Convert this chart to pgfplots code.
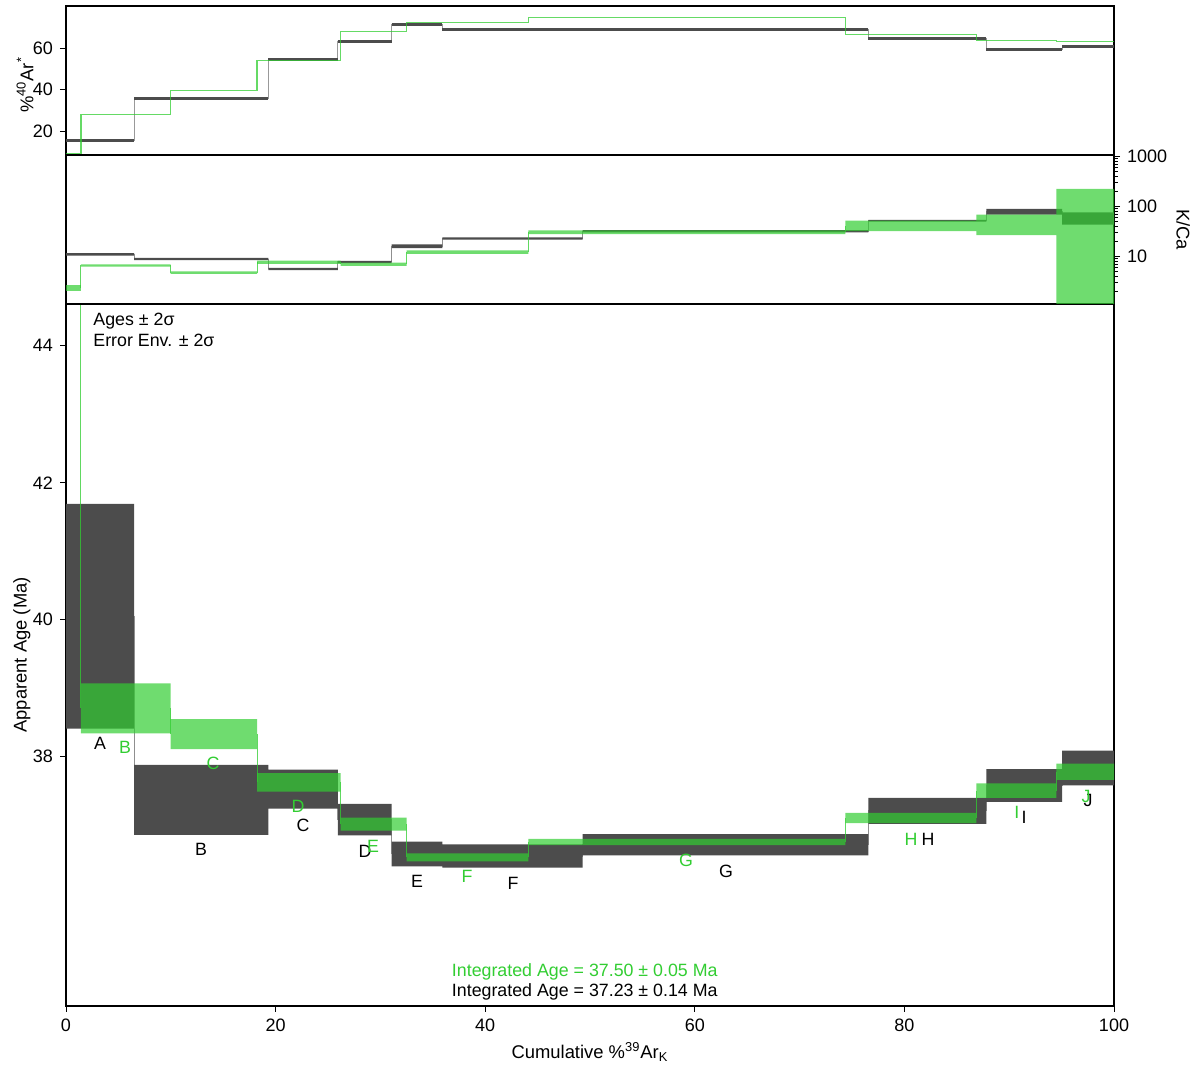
\documentclass[border=0pt]{standalone}
\usepackage{fontspec}
\setmainfont{Liberation Sans}
\usepackage{pgfplots}
\pgfplotsset{compat=1.18}
\usepackage{pgfplotstable}
\definecolor{lg}{RGB}{50,205,50}

% black series: x = left edge of step; mc = apparent age; kc = K/Ca; p = %40Ar*
\pgfplotstableread{
x     mc     kc    p
0     40.05  11.1  15.6
6.49  37.37  8.96  35.8
19.30 37.525 5.66  54.8
25.93 37.08  7.82  63.2
31.08 36.58  16.1  71.4
35.91 36.55  23.1  69.0
49.30 36.715 32.3  68.9
76.57 37.21  52.3  64.6
87.82 37.58  79    59.3
95.06 37.835 58    60.8
100   37.835 58    60.8
}\blk

% green series
\pgfplotstableread{
x     mc     kc    p
0     48.0   2.36  9.1
1.43  38.705 6.67  27.9
9.99  38.33  4.8   39.7
18.23 37.625 7.7   54.2
26.21 37.015 7.03  68.2
32.51 36.53  12.3  72.6
44.11 36.755 30.6  75.0
74.37 37.105 41.3  66.8
86.86 37.505 43.1  63.9
94.51 37.78  10    63.4
100   37.78  10    63.4
}\grn

\pgfplotsset{
  every axis/.append style={
    scale only axis, width=524pt, xmin=0, xmax=100,
    axis line style={line width=0.6pt},
    tick style={black, line width=0.5pt},
    tick align=outside, major tick length=3pt, minor tick length=1.8pt,
    tick label style={font=\fontsize{9}{10}\selectfont},
    label style={font=\fontsize{9.2}{11}\selectfont},
    /pgf/number format/assume math mode=true,
    /pgf/number format/1000 sep={},
  },
}

\begin{document}
\begin{tikzpicture}
\useasboundingbox (-33pt,-31.5pt) rectangle (569pt,503pt);

% ---------------- main age spectrum ----------------
\begin{axis}[name=main, at={(0,0)}, anchor=south west, height=351pt,
  ymin=34.36, ymax=44.61, ytick={38,40,42,44},
  xtick={0,20,...,100}, xtick pos=bottom, ytick pos=left,
  xlabel={Cumulative \%\textsuperscript{39}Ar\textsubscript{K}},
  ylabel={Apparent Age (Ma)},
  xlabel style={at={(axis description cs:0.5,-0.0655)}, anchor=center},
  ylabel style={at={(axis description cs:-0.042,0.5)}, anchor=center},
]
\addplot[const plot, black!40, line width=0.5pt] table[x=x,y=mc]{\blk};
% black age boxes (upper edge, then lower edge reversed)
\addplot[fill=black!70, draw=none] coordinates {
(0,41.69)(6.49,41.69)(6.49,37.88)(19.30,37.88)(19.30,37.81)(25.93,37.81)(25.93,37.31)(31.08,37.31)(31.08,36.76)(35.91,36.76)(35.91,36.72)(49.30,36.72)(49.30,36.87)(76.57,36.87)(76.57,37.40)(87.82,37.40)(87.82,37.82)(95.06,37.82)(95.06,38.09)(100,38.09)
(100,37.58)(95.06,37.58)(95.06,37.34)(87.82,37.34)(87.82,37.02)(76.57,37.02)(76.57,36.56)(49.30,36.56)(49.30,36.38)(35.91,36.38)(35.91,36.40)(31.08,36.40)(31.08,36.85)(25.93,36.85)(25.93,37.24)(19.30,37.24)(19.30,36.86)(6.49,36.86)(6.49,38.41)(0,38.41)
} -- cycle;
% green step connectors (vertical parts only)
\addplot[lg, opacity=0.75, line width=0.5pt, unbounded coords=jump] coordinates {
(1.43,48) (1.43,38.705) (1.43,nan)
(9.99,38.705) (9.99,38.33) (9.99,nan)
(18.23,38.33) (18.23,37.625) (18.23,nan)
(26.21,37.625) (26.21,37.015) (26.21,nan)
(32.51,37.015) (32.51,36.53) (32.51,nan)
(44.11,36.53) (44.11,36.755) (44.11,nan)
(74.37,36.755) (74.37,37.105) (74.37,nan)
(86.86,37.105) (86.86,37.505) (86.86,nan)
(94.51,37.505) (94.51,37.78)
};
% green age boxes
\addplot[fill=lg, fill opacity=0.7, draw=none] coordinates {
(0,50.0)(1.43,50.0)(1.43,39.07)(9.99,39.07)(9.99,38.55)(18.23,38.55)(18.23,37.76)(26.21,37.76)(26.21,37.11)(32.51,37.11)(32.51,36.59)(44.11,36.59)(44.11,36.80)(74.37,36.80)(74.37,37.18)(86.86,37.18)(86.86,37.61)(94.51,37.61)(94.51,37.90)(100,37.90)
(100,37.66)(94.51,37.66)(94.51,37.40)(86.86,37.40)(86.86,37.03)(74.37,37.03)(74.37,36.71)(44.11,36.71)(44.11,36.47)(32.51,36.47)(32.51,36.92)(26.21,36.92)(26.21,37.49)(18.23,37.49)(18.23,38.11)(9.99,38.11)(9.99,38.34)(1.43,38.34)(1.43,46.0)(0,46.0)
} -- cycle;

\begin{scope}[every node/.style={font=\fontsize{8.9}{10}\selectfont, anchor=center, inner sep=0pt}]
\node at (axis cs:3.24,38.19) {A};
\node at (axis cs:12.88,36.64) {B};
\node at (axis cs:22.61,37.00) {C};
\node at (axis cs:28.53,36.62) {D};
\node at (axis cs:33.49,36.18) {E};
\node at (axis cs:42.65,36.15) {F};
\node at (axis cs:62.98,36.33) {G};
\node at (axis cs:82.25,36.79) {H};
\node at (axis cs:91.41,37.11) {I};
\node at (axis cs:97.52,37.36) {J};
\node[text=lg] at (axis cs:5.63,38.13) {B};
\node[text=lg] at (axis cs:14.03,37.90) {C};
\node[text=lg] at (axis cs:22.14,37.28) {D};
\node[text=lg] at (axis cs:29.29,36.69) {E};
\node[text=lg] at (axis cs:38.26,36.25) {F};
\node[text=lg] at (axis cs:59.16,36.48) {G};
\node[text=lg] at (axis cs:80.63,36.80) {H};
\node[text=lg] at (axis cs:90.74,37.18) {I};
\node[text=lg] at (axis cs:97.33,37.42) {J};
\node[anchor=west] at (rel axis cs:0.0258,0.975) {Ages ± 2σ};
\node[anchor=west] at (rel axis cs:0.0258,0.948) {Error Env. ± 2σ};
\node[text=lg] at (rel axis cs:0.495,0.048) {Integrated Age = 37.50 ± 0.05 Ma};
\node at (rel axis cs:0.495,0.020) {Integrated Age = 37.23 ± 0.14 Ma};
\end{scope}
\end{axis}

% ---------------- K/Ca ----------------
\begin{axis}[name=mid, at={(main.north west)}, anchor=south west, height=74.5pt,
  ymode=log, ymin=1.13, ymax=1080, xtick=\empty,
  ytick pos=right, yticklabel pos=right, log ticks with fixed point,
  ylabel={K/Ca},
  ylabel style={at={(axis description cs:1.066,0.5)}, anchor=center, rotate=180},
]
\addplot[const plot, black!40, line width=0.5pt] table[x=x,y=kc]{\blk};
\addplot[fill=black!70, draw=none] coordinates {
(0,11.7)(6.49,11.7)(6.49,9.45)(19.30,9.45)(19.30,5.97)(25.93,5.97)(25.93,8.25)(31.08,8.25)(31.08,17.6)(35.91,17.6)(35.91,24.4)(49.30,24.4)(49.30,34.1)(76.57,34.1)(76.57,54.4)(87.82,54.4)(87.82,90)(95.06,90)(95.06,77)(100,77)
(100,43.9)(95.06,43.9)(95.06,69.3)(87.82,69.3)(87.82,50.3)(76.57,50.3)(76.57,30.6)(49.30,30.6)(49.30,21.9)(35.91,21.9)(35.91,14.8)(31.08,14.8)(31.08,7.4)(25.93,7.4)(25.93,5.36)(19.30,5.36)(19.30,8.5)(6.49,8.5)(6.49,10.5)(0,10.5)
} -- cycle;
\addplot[lg, opacity=0.75, line width=0.5pt, unbounded coords=jump] coordinates {
(1.43,2.36) (1.43,6.67) (1.43,nan)
(9.99,6.67) (9.99,4.8) (9.99,nan)
(18.23,4.8) (18.23,7.7) (18.23,nan)
(26.21,7.7) (26.21,7.03) (26.21,nan)
(32.51,7.03) (32.51,12.3) (32.51,nan)
(44.11,12.3) (44.11,30.6) (44.11,nan)
(74.37,30.6) (74.37,41.3)
};
\addplot[fill=lg, fill opacity=0.7, draw=none] coordinates {
(0,2.69)(1.43,2.69)(1.43,7.03)(9.99,7.03)(9.99,5.1)(18.23,5.1)(18.23,8.32)(26.21,8.32)(26.21,7.6)(32.51,7.6)(32.51,13.3)(44.11,13.3)(44.11,33.4)(74.37,33.4)(74.37,52.7)(86.86,52.7)(86.86,69.3)(94.51,69.3)(94.51,228)(100,228)
(100,0.5)(94.51,0.5)(94.51,26.8)(86.86,26.8)(86.86,32.3)(74.37,32.3)(74.37,28.1)(44.11,28.1)(44.11,11.3)(32.51,11.3)(32.51,6.5)(26.21,6.5)(26.21,7.13)(18.23,7.13)(18.23,4.51)(9.99,4.51)(9.99,6.33)(1.43,6.33)(1.43,2.07)(0,2.07)
} -- cycle;
\end{axis}

% ---------------- %40Ar* ----------------
\begin{axis}[name=top, at={(mid.north west)}, anchor=south west, height=74.5pt,
  ymin=8.4, ymax=80.5, ytick={20,40,60}, ytick pos=left, xtick=\empty,
  ylabel={\%\textsuperscript{40}Ar\textsuperscript{*}},
  ylabel style={at={(axis description cs:-0.039,0.47)}, anchor=center},
]
\addplot[const plot, black!40, line width=0.5pt] table[x=x,y=p]{\blk};
\addplot[jump mark left, black!70, line width=1.5pt] table[x=x,y=p]{\blk};
\addplot[const plot, lg, opacity=0.75, line width=0.6pt] table[x=x,y=p]{\grn};
\end{axis}
\end{tikzpicture}
\end{document}
